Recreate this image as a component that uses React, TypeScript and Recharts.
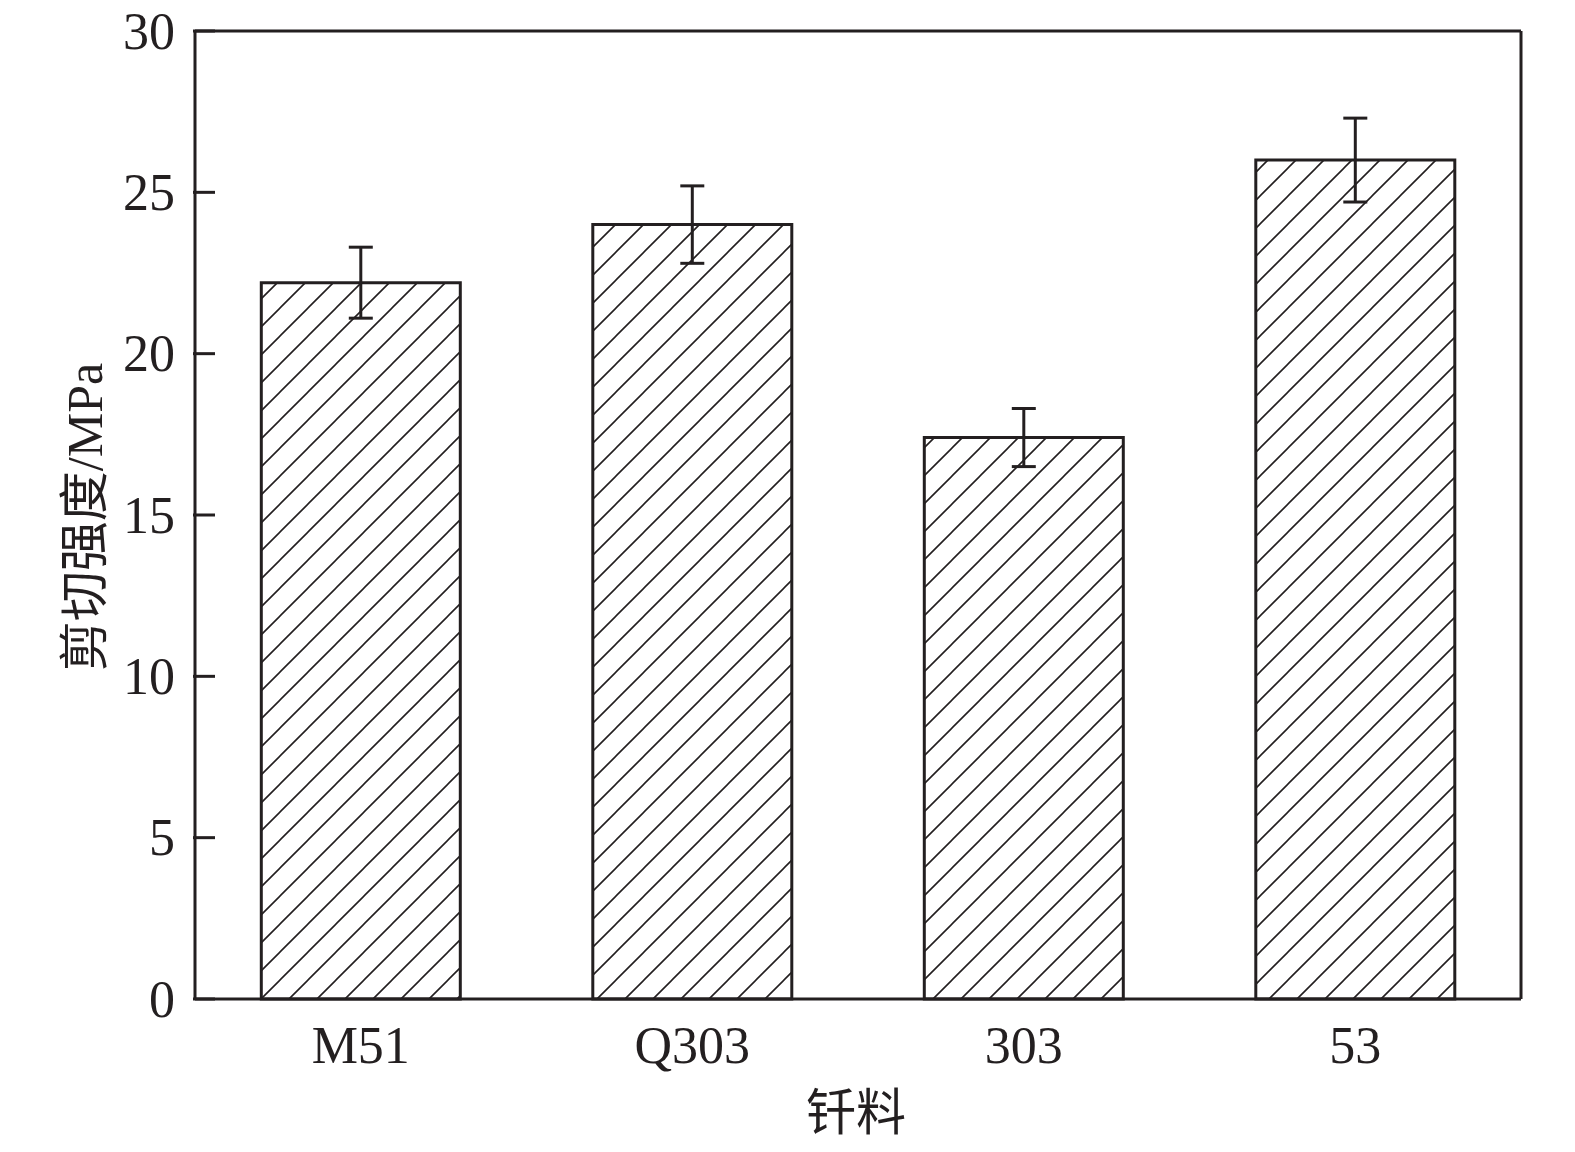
import React from "react";
import {
  BarChart,
  Bar,
  XAxis,
  YAxis,
  ErrorBar,
  Label,
  CartesianGrid,
} from "recharts";

const solders = ["M51", "Q303", "303", "53"];
const shearStrength = [22.2, 24.0, 17.4, 26.0];
const shearError = [1.1, 1.2, 0.9, 1.3];
const yTicks = [0, 5, 10, 15, 20, 25, 30];

const INK = "#231f20";
const FONT = "'Liberation Serif', 'Times New Roman', 'Noto Sans CJK SC', serif";

const chartData = solders.map((name, i) => ({
  name,
  value: shearStrength[i],
  err: shearError[i],
}));

function YTick(props: any) {
  const { x, y, payload } = props;
  return (
    <g>
      <line x1={x} y1={y} x2={x + 22} y2={y} stroke={INK} strokeWidth={3} />
      <text
        x={x - 18}
        y={y}
        textAnchor="end"
        dominantBaseline="central"
        fontSize={52}
        fontFamily={FONT}
        fill={INK}
      >
        {payload.value}
      </text>
    </g>
  );
}

function XTick(props: any) {
  const { x, y, payload } = props;
  return (
    <text
      x={x}
      y={y + 44}
      textAnchor="middle"
      dominantBaseline="central"
      fontSize={52}
      fontFamily={FONT}
      fill={INK}
    >
      {payload.value}
    </text>
  );
}

export default function App() {
  return (
    <div style={{ position: "absolute", left: 0, top: 0, background: "#fff" }}>
      <BarChart
        width={1575}
        height={1152}
        data={chartData}
        margin={{ top: 31, right: 54, bottom: 0, left: 0 }}
        barCategoryGap="20%"
      >
        <defs>
          <pattern
            id="hatch"
            patternUnits="userSpaceOnUse"
            width={28}
            height={28}
          >
            <rect width={28} height={28} fill="#fff" />
            <path
              d="M0,28 L28,0 M-7,7 L7,-7 M21,35 L35,21"
              stroke={INK}
              strokeWidth={1.6}
            />
          </pattern>
        </defs>
        {/* frame: top and right edges of the plot box */}
        <CartesianGrid
          stroke={INK}
          strokeWidth={3}
          horizontalCoordinatesGenerator={({ offset }: any) => [offset.top]}
          verticalCoordinatesGenerator={({ offset }: any) => [
            offset.left + offset.width,
          ]}
        />
        <XAxis
          dataKey="name"
          height={153}
          tickSize={0}
          tickLine={false}
          axisLine={{ stroke: INK, strokeWidth: 3 }}
          tick={<XTick />}
          interval={0}
        >
          <Label
            content={() => (
              <text
                x={856}
                y={1113}
                textAnchor="middle"
                dominantBaseline="central"
                fontSize={50}
                fontFamily={FONT}
                fill={INK}
              >
                钎料
              </text>
            )}
          />
        </XAxis>
        <YAxis
          width={195}
          domain={[0, 30]}
          ticks={yTicks}
          tickSize={0}
          tickLine={false}
          axisLine={{ stroke: INK, strokeWidth: 3 }}
          tick={<YTick />}
          interval={0}
        >
          <Label
            content={() => (
              <text
                x={85}
                y={517}
                textAnchor="middle"
                dominantBaseline="central"
                fontSize={50}
                fontFamily={FONT}
                fill={INK}
                transform="rotate(-90 85 517)"
              >
                剪切强度/MPa
              </text>
            )}
          />
        </YAxis>
        <Bar
          dataKey="value"
          fill="url(#hatch)"
          stroke={INK}
          strokeWidth={3}
          isAnimationActive={false}
        >
          <ErrorBar
            dataKey="err"
            width={12}
            stroke={INK}
            strokeWidth={3}
            direction="y"
          />
        </Bar>
      </BarChart>
    </div>
  );
}
